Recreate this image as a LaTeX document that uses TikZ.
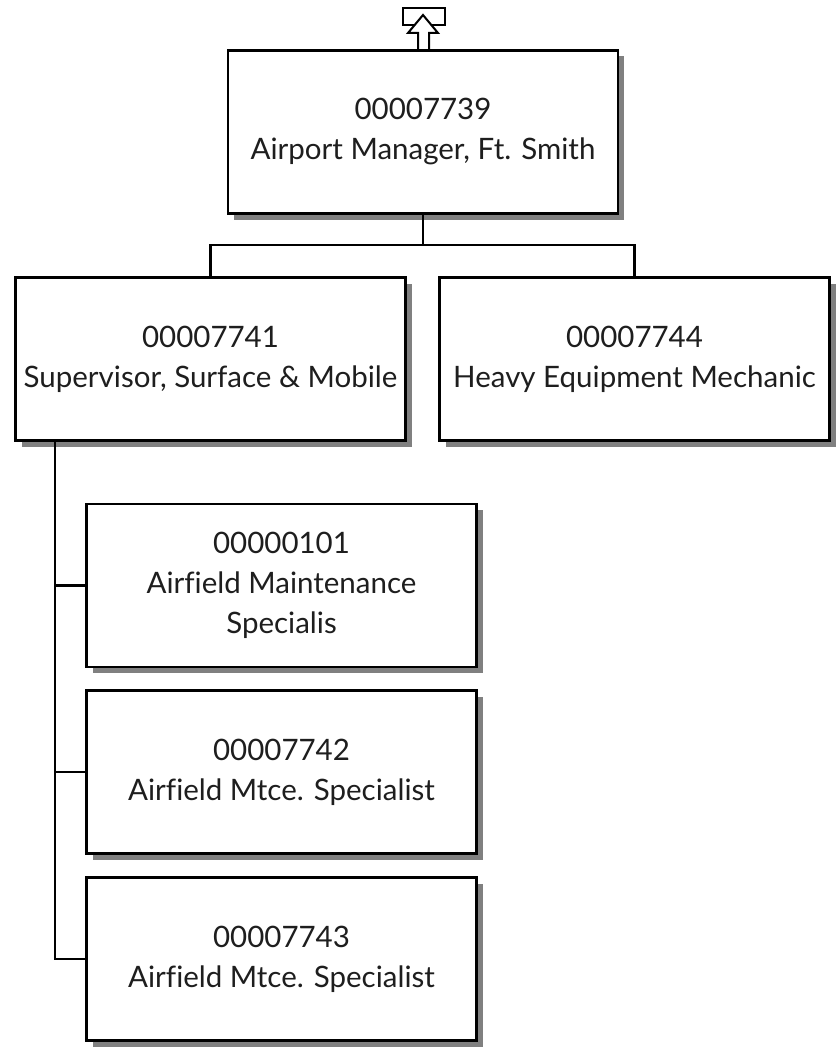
\documentclass[tikz,border=0pt]{standalone}
\usepackage{fontspec}
\setmainfont{Lato}[Ligatures=NoCommon]
\usetikzlibrary{shadows}
\definecolor{chartgray}{RGB}{128, 128, 128}
\definecolor{inkgray}{RGB}{30, 30, 30}

\tikzset{
    posbox/.style={draw=black, line width=2.6pt, fill=white, align=center,
        minimum width=390pt, minimum height=163pt, inner sep=0pt,
        text=inkgray, font=\fontsize{29.5}{40}\selectfont,
        drop shadow={shadow xshift=6pt, shadow yshift=-6pt, fill=chartgray, opacity=1}},
    wire/.style={draw=black, line width=2.2pt}
}

\begin{document}
\begin{tikzpicture}[x=1pt, y=-1pt]
    \useasboundingbox (0,0) rectangle (835,1054);

    % Reports-to icon above the top box
    \draw[line width=2pt, fill=white] (403,8) rectangle (445,25);
    \draw[line width=2pt, fill=white, line join=miter]
        (418,50) -- (418,33) -- (408,33) -- (423,15) -- (438,33) -- (429,33) -- (429,50);

    % Top position
    \node[posbox] (mgr) at (423,132) {00007739\\Airport Manager, Ft. Smith};

    % Second level
    \node[posbox] (sup) at (210.5,359) {00007741\\Supervisor, Surface \& Mobile};
    \node[posbox] (mech) at (634.5,359) {00007744\\Heavy Equipment Mechanic};

    % Staff under the supervisor
    \node[posbox] (spec1) at (281.5,585.5) {00000101\\Airfield Maintenance\\Specialis};
    \node[posbox] (spec2) at (281.5,772) {00007742\\Airfield Mtce. Specialist};
    \node[posbox] (spec3) at (281.5,959) {00007743\\Airfield Mtce. Specialist};

    % Connectors
    \coordinate (bus) at (423,245);
    \draw[wire] (mgr.south) -- (bus);
    \draw[wire] (bus) -| (sup.north);
    \draw[wire] (bus) -| (mech.north);

    \coordinate (trunk) at ([xshift=41pt]sup.south west);
    \draw[wire] (trunk) |- (spec3.west);
    \draw[wire] (trunk |- spec1.west) -- (spec1.west);
    \draw[wire] (trunk |- spec2.west) -- (spec2.west);
\end{tikzpicture}
\end{document}
